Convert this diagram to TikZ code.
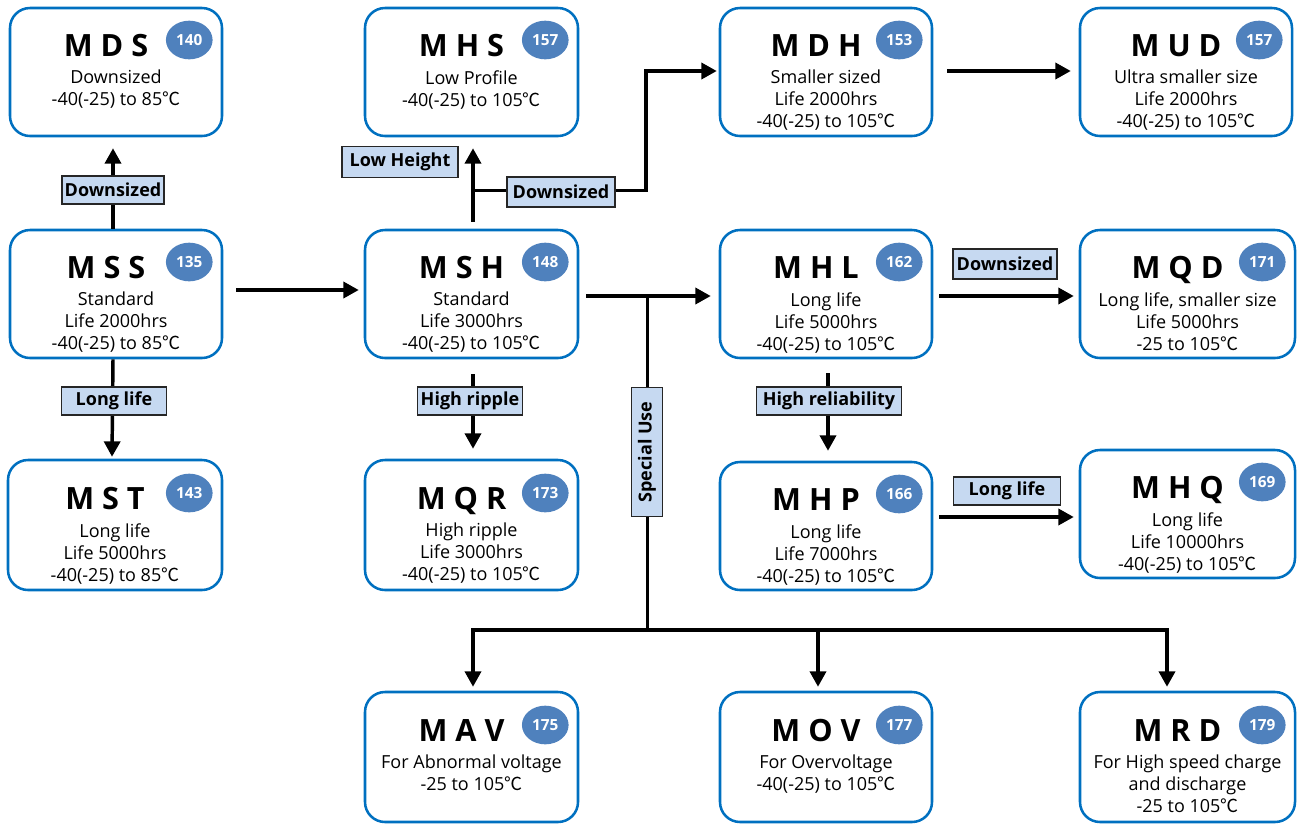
\documentclass[tikz,border=0pt]{standalone}
\usepackage{fontspec}
\setmainfont{Open Sans}
\newfontfamily\cjk{Noto Sans CJK KR}
\usetikzlibrary{arrows.meta,fit,shapes.geometric}
\definecolor{boxblue}{RGB}{0,112,192}
\definecolor{badgeblue}{RGB}{79,129,189}
\definecolor{lblue}{RGB}{198,217,241}
\definecolor{lborder}{RGB}{38,38,38}
\newcommand{\dg}{{\cjk ℃}}
\tikzset{
  prod/.style={draw=boxblue, line width=1.9pt, rounded corners=15pt, inner sep=0pt},
  ptitle/.style={anchor=base, font=\bfseries\fontsize{23}{27}\selectfont},
  pbadge/.style={ellipse, fill=badgeblue, minimum width=35pt, minimum height=29pt, inner sep=0pt, text=white, font=\bfseries\fontsize{11.5}{13}\selectfont},
  pbody/.style={anchor=north, align=center, font=\fontsize{13.5}{16.5}\selectfont, inner sep=0pt},
  lab/.style={draw=lborder, line width=1.2pt, fill=lblue, font=\bfseries\fontsize{13.5}{15}\selectfont, inner xsep=2pt, inner ysep=0pt, minimum height=21pt},
  ln/.style={line width=2.6pt},
  arr/.style={line width=2.6pt, -{Triangle[length=11.5pt,width=12pt]}}
}
\newcommand{\pbox}[8]{%
  \node[prod, fit={(#2,#3) (#4,#5)}] (#1) {};
  \node[ptitle] (#1t) at ([shift={(-10,-16)}]#1.center) {#6};
  \node[pbadge] (#1b) at ([shift={(-34,-32)}]#1.east) {#7};
  \node[pbody] (#1d) at ([shift={(0,-2)}]#1.center) {#8};
}
\begin{document}
\begin{tikzpicture}[x=0.75pt,y=-0.75pt]
\useasboundingbox (0,0) rectangle (1302,825);
\pbox{mds}{10}{8}{222}{136}{M D S}{140}{Downsized\\-40(-25) to 85\dg}
\pbox{mss}{10}{230}{222}{358}{M S S}{135}{Standard\\Life 2000hrs\\-40(-25) to 85\dg}
\pbox{mst}{8}{460}{222}{590}{M S T}{143}{Long life\\Life 5000hrs\\-40(-25) to 85\dg}
\pbox{mhs}{365}{8}{578}{136}{M H S}{157}{Low Profile\\-40(-25) to 105\dg}
\pbox{msh}{365}{230}{578}{358}{M S H}{148}{Standard\\Life 3000hrs\\-40(-25) to 105\dg}
\pbox{mqr}{365}{460}{578}{590}{M Q R}{173}{High ripple\\Life 3000hrs\\-40(-25) to 105\dg}
\pbox{mdh}{720}{8}{932}{136}{M D H}{153}{Smaller sized\\Life 2000hrs\\-40(-25) to 105\dg}
\pbox{mud}{1080}{8}{1292}{136}{M U D}{157}{Ultra smaller size\\Life 2000hrs\\-40(-25) to 105\dg}
\pbox{mhl}{720}{230}{932}{358}{M H L}{162}{Long life\\Life 5000hrs\\-40(-25) to 105\dg}
\pbox{mqd}{1080}{230}{1295}{358}{M Q D}{171}{Long life, smaller size\\Life 5000hrs\\-25 to 105\dg}
\pbox{mhp}{720}{462}{932}{590}{M H P}{166}{Long life\\Life 7000hrs\\-40(-25) to 105\dg}
\pbox{mhq}{1080}{450}{1295}{578}{M H Q}{169}{Long life\\Life 10000hrs\\-40(-25) to 105\dg}
\pbox{mav}{365}{692}{578}{822}{M A V}{175}{For Abnormal voltage\\-25 to 105\dg}
\pbox{mov}{720}{692}{932}{822}{M O V}{177}{For Overvoltage\\-40(-25) to 105\dg}
\pbox{mrd}{1080}{692}{1295}{822}{M R D}{179}{For High speed charge\\and discharge\\-25 to 105\dg}
% connectors
\draw[arr] ([shift={(-3,0)}]mss.north) -- ([shift={(-3,11)}]mds.south);
\draw[arr] ([shift={(-3,0)}]mss.south) -- ([shift={(-3,-2)}]mst.north);
\draw[arr] ([shift={(13,-4)}]mss.east) -- ([shift={(-5,-4)}]msh.west);
\draw[arr] ([shift={(1.5,-7)}]msh.north) -- ([shift={(1.5,11)}]mhs.south);
\draw[arr] ([shift={(1.5,-38)}]msh.north) -- ++(173,0) |- ([shift={(-2,-1)}]mdh.west);
\draw[arr] ([shift={(14,-1)}]mdh.east) -- ([shift={(-8,-1)}]mud.west);
\coordinate (sj) at ([shift={(68,2)}]msh.east);
\coordinate (bus) at ([shift={(0,334)}]sj);
\draw[arr] ([shift={(7,2)}]msh.east) -- ([shift={(-8,2)}]mhl.west);
\draw[ln] (sj) -- (bus);
\draw[arr] (bus) -| ([shift={(1.5,-4)}]mav.north);
\draw[arr] (bus) -| ([shift={(-8,-4)}]mov.north);
\draw[arr] (bus) -| ([shift={(-20.5,-4)}]mrd.north);
\draw[arr] ([shift={(1.5,15)}]msh.south) -- ([shift={(1.5,-10)}]mqr.north);
\draw[arr] ([shift={(2,14)}]mhl.south) -- ([shift={(2,-10)}]mhp.north);
\draw[arr] ([shift={(6,2)}]mhl.east) -- ([shift={(-5,2)}]mqd.west);
\draw[arr] ([shift={(6,-9)}]mhp.east) -- ([shift={(-5,3)}]mhq.west);
% labels
\node[lab, minimum width=75pt] (l1) at (113,190) {Downsized};
\node[lab, minimum width=79pt] (l2) at (114,401) {Long life};
\node[lab, minimum width=87pt, minimum height=23pt] (l3) at (400,162) {Low Height};
\node[lab, minimum width=81pt, minimum height=22.5pt] (l4) at (561,192) {Downsized};
\node[lab, minimum width=79pt] (l5) at (470,401) {High ripple};
\node[lab, rotate=90, minimum width=97pt, minimum height=23pt] (l6) at (647,452) {Special Use};
\node[lab, minimum width=109pt] (l7) at (829,401) {High reliability};
\node[lab, minimum width=78pt, minimum height=22.5pt] (l8) at (1005,264) {Downsized};
\node[lab, minimum width=80pt] (l9) at (1007,491) {Long life};
\end{tikzpicture}
\end{document}
